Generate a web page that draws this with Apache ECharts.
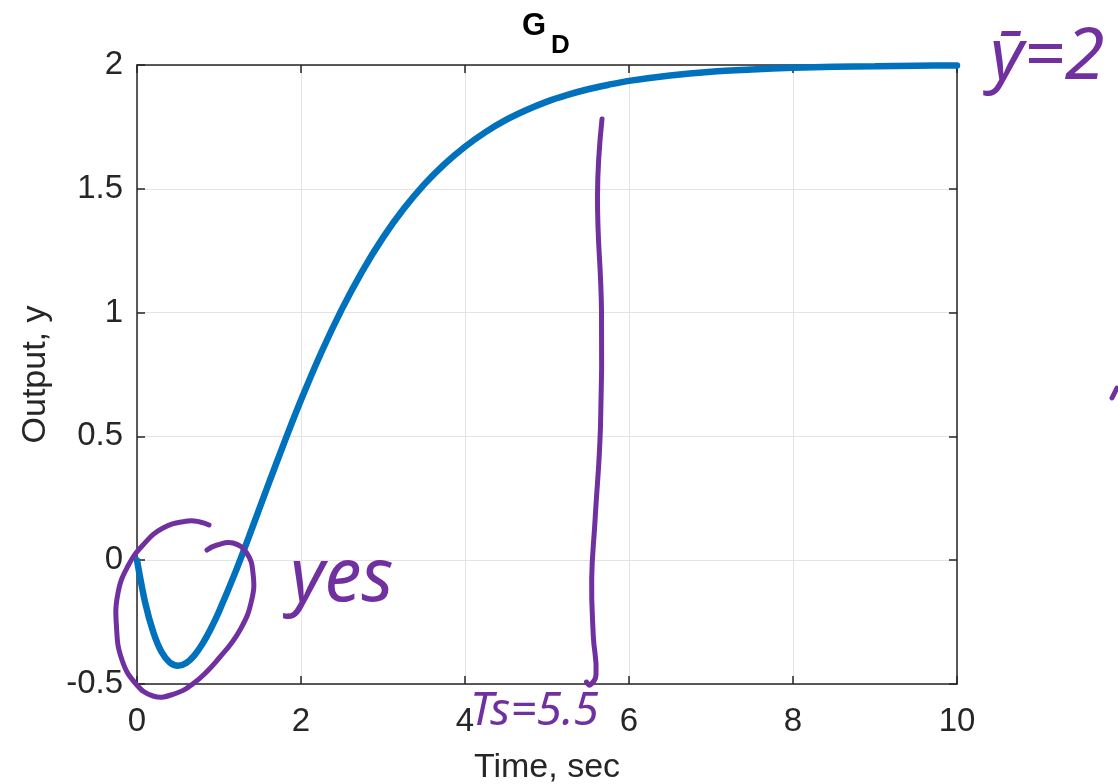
<!DOCTYPE html>
<html>
<head>
<meta charset="utf-8">
<title>G_D step response</title>
<script src="https://cdn.jsdelivr.net/npm/echarts@6/dist/echarts.min.js"></script>
<style>
  html, body { margin: 0; padding: 0; background: #ffffff; }
  #chart { width: 1118px; height: 784px; }
</style>
</head>
<body>
<div id="chart"></div>
<script>
// ---- data ----
const timeValues = [0, 0.1, 0.2, 0.3, 0.4, 0.5, 0.6, 0.7, 0.8, 0.9, 1.0, 1.2, 1.4, 1.6, 1.8, 2.0,
  2.25, 2.5, 2.75, 3.0, 3.25, 3.5, 3.75, 4.0, 4.25, 4.5, 4.75, 5.0, 5.25, 5.5, 5.75, 6.0,
  6.5, 7.0, 7.5, 8.0, 8.5, 9.0, 9.5, 10.0];
const outputValues = [0, -0.172, -0.292, -0.371, -0.413, -0.426, -0.415, -0.384, -0.337, -0.277, -0.207,
  -0.048, 0.126, 0.304, 0.479, 0.647, 0.841, 1.015, 1.169, 1.303, 1.418, 1.517, 1.600, 1.670, 1.729,
  1.778, 1.818, 1.852, 1.879, 1.902, 1.920, 1.936, 1.958, 1.973, 1.982, 1.989, 1.993, 1.995, 1.997, 1.998];
const xRange = [0, 10];
const xStep = 2;
const yRange = [-0.5, 2];
const yStep = 0.5;
const titleMain = 'G';
const titleSub = 'D';
const xName = 'Time, sec';
const yName = 'Output, y';
const noteYes = 'yes';
const noteSettling = 'Ts=5.5';
const noteFinal = 'ȳ=2';

// ---- handwriting stroke paths (pixel positions, annotation only) ----
const circleStroke = [[209,525],[200,522],[188,521],[163,528],[143,545],[128,566],[118,593],[116.5,627],
  [122,660],[136,684],[153,696],[171,695],[194,683],[220,657],[240,630],[251.7,600],[253,573],
  [246.7,553],[233,543],[217,545],[207,550]];
const settleStroke = [[602,119],[597.5,196],[601.5,311],[600.5,426],[595,521],[591.7,579],[593.3,636],
  [596,675],[590,685],[586.5,682]];
const edgeStroke = [[1112,398],[1117,388]];

const axisColor = '#262626';
const gridColor = '#e3e3e3';
const penColor = '#7030a0';
const font = '"Liberation Sans", Arial, sans-serif';

const chart = echarts.init(document.getElementById('chart'), null, { renderer: 'canvas' });

function penLine(points) {
  return {
    type: 'polyline',
    z: 100,
    shape: { points: points, smooth: 0.45 },
    style: { stroke: penColor, lineWidth: 5, fill: null, lineCap: 'round', lineJoin: 'round' }
  };
}
function penText(text, x, y, size, weight) {
  return {
    type: 'text',
    z: 100,
    style: {
      text: text, x: x, y: y, fill: penColor,
      font: 'italic ' + weight + ' ' + size + 'px "Noto Sans", "DejaVu Sans", sans-serif',
      align: 'left', verticalAlign: 'middle'
    }
  };
}

const baseX = {
  type: 'value', min: xRange[0], max: xRange[1], interval: xStep,
  axisLine: { show: true, onZero: false, lineStyle: { color: axisColor, width: 1.5 } },
  axisTick: { show: true, inside: true, length: 8, lineStyle: { color: axisColor, width: 1.5 } },
  splitLine: { show: false }
};
const baseY = {
  type: 'value', min: yRange[0], max: yRange[1], interval: yStep,
  axisLine: { show: true, onZero: false, lineStyle: { color: axisColor, width: 1.5 } },
  axisTick: { show: true, inside: true, length: 8, lineStyle: { color: axisColor, width: 1.5 } },
  splitLine: { show: false }
};

const option = {
  backgroundColor: '#ffffff',
  animation: false,
  title: [
    { text: titleMain, left: 522, top: 11, padding: 0,
      textStyle: { fontFamily: font, fontWeight: 'bold', fontSize: 31, color: '#000000' } },
    { text: titleSub, left: 551, top: 33, padding: 0,
      textStyle: { fontFamily: font, fontWeight: 'bold', fontSize: 26, color: '#000000' } }
  ],
  grid: { left: 137, right: 161, top: 65, bottom: 100, containLabel: false, outerBoundsMode: 'none' },
  xAxis: [
    Object.assign({}, baseX, {
      position: 'bottom',
      name: xName, nameLocation: 'middle', nameGap: 67,
      nameTextStyle: { fontFamily: font, fontSize: 34, color: axisColor },
      axisLabel: { show: true, margin: 21, fontFamily: font, fontSize: 33, color: axisColor },
      splitLine: { show: true, lineStyle: { color: gridColor, width: 1 } }
    }),
    Object.assign({}, baseX, { position: 'top', axisLabel: { show: false } })
  ],
  yAxis: [
    Object.assign({}, baseY, {
      position: 'left',
      name: yName, nameLocation: 'middle', nameGap: 84, nameRotate: 90,
      nameTextStyle: { fontFamily: font, fontSize: 34, color: axisColor },
      axisLabel: { show: true, margin: 14, fontFamily: font, fontSize: 33, color: axisColor },
      splitLine: { show: true, lineStyle: { color: gridColor, width: 1 } }
    }),
    Object.assign({}, baseY, { position: 'right', axisLabel: { show: false } })
  ],
  series: [
    {
      type: 'line',
      xAxisIndex: 0, yAxisIndex: 0,
      data: timeValues.map((t, i) => [t, outputValues[i]]),
      showSymbol: false,
      smooth: 0.3,
      clip: false,
      lineStyle: { color: '#0072bd', width: 6.5, cap: 'round' },
      z: 5
    }
  ],
  graphic: [
    penLine(circleStroke),
    penLine(settleStroke),
    penLine(edgeStroke),
    penText(noteYes, 290, 580, 74, 'normal'),
    penText(noteSettling, 470, 712, 46, 'normal'),
    penText(noteFinal, 990, 58, 72, 'normal')
  ]
};

chart.setOption(option);
</script>
</body>
</html>
